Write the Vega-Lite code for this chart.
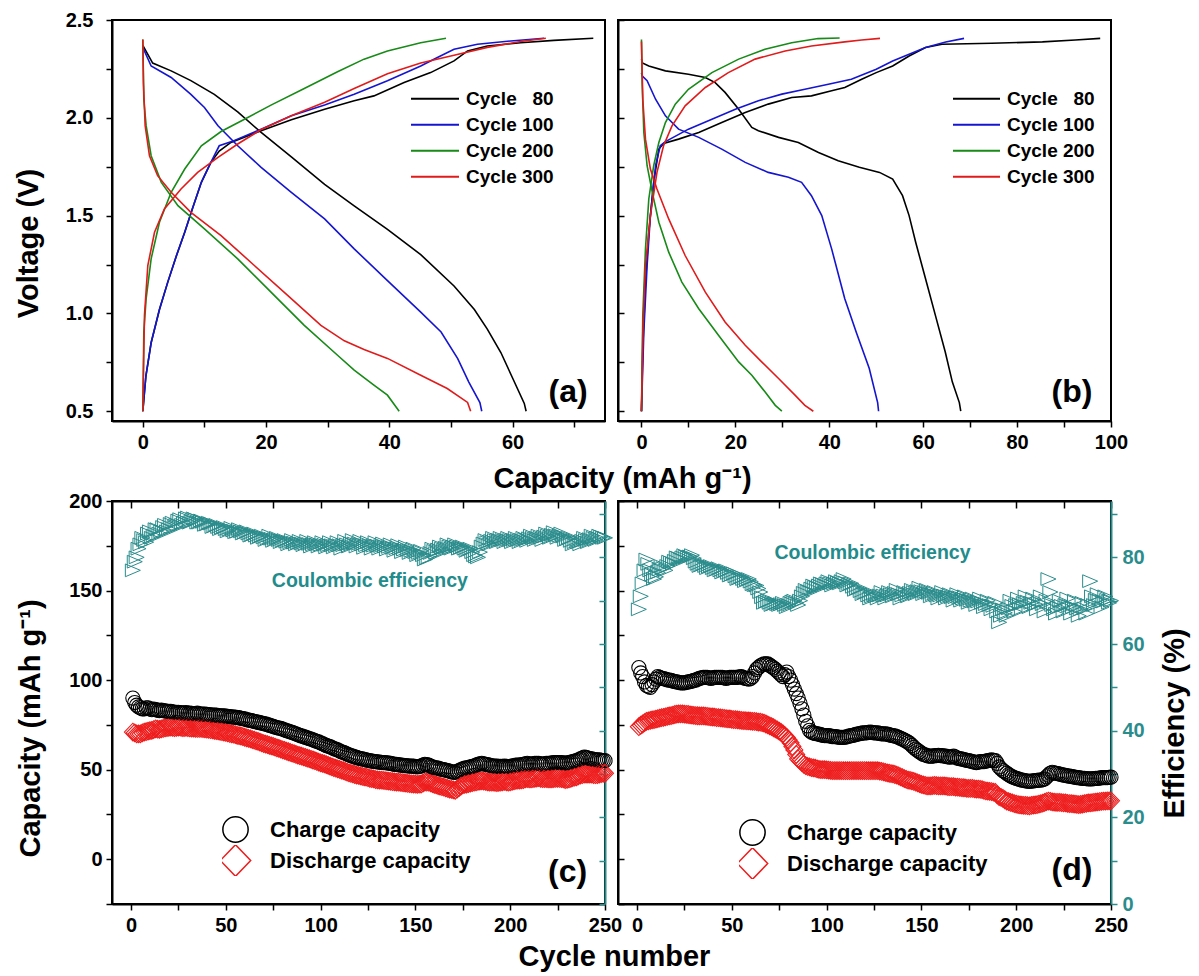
{
"$schema": "https://vega.github.io/schema/vega-lite/v6.json",
"background": "white",
"padding": {"left": 13, "top": 9, "right": 5, "bottom": 5},
"config": {
 "font": "Liberation Sans",
 "view": {"stroke": "#000000", "strokeWidth": 2},
 "axis": {"labelFont": "Liberation Sans", "labelFontSize": 20, "labelFontWeight": "bold", "labelColor": "#000000", "titleFont": "Liberation Sans", "titleFontSize": 29, "titleFontWeight": "bold", "titleColor": "#000000", "tickColor": "#000000", "tickWidth": 1.5, "domainColor": "#000000", "domainWidth": 2, "grid": false, "labelOverlap": false, "labelFlush": false},
 "legend": {"labelFont": "Liberation Sans", "labelFontWeight": "bold", "labelColor": "#000000", "labelLimit": 400}
},
"datasets": {
 "a": [
  {"c":"80","b":"d","x":0,"v":2.37},{"c":"80","b":"d","x":1.6,"v":2.28},{"c":"80","b":"d","x":4.6,"v":2.24},{"c":"80","b":"d","x":7.8,"v":2.19},{"c":"80","b":"d","x":11.6,"v":2.12},{"c":"80","b":"d","x":15.4,"v":2.03},{"c":"80","b":"d","x":19.2,"v":1.925},{"c":"80","b":"d","x":24.1,"v":1.8},{"c":"80","b":"d","x":29.5,"v":1.66},{"c":"80","b":"d","x":34.3,"v":1.55},{"c":"80","b":"d","x":39.7,"v":1.43},{"c":"80","b":"d","x":45.1,"v":1.3},{"c":"80","b":"d","x":50.5,"v":1.14},{"c":"80","b":"d","x":53.8,"v":1.02},{"c":"80","b":"d","x":55.9,"v":0.92},{"c":"80","b":"d","x":58.1,"v":0.8},{"c":"80","b":"d","x":60,"v":0.67},{"c":"80","b":"d","x":61.9,"v":0.54},{"c":"80","b":"d","x":62.2,"v":0.5},
  {"c":"80","b":"c","x":0,"v":0.5},{"c":"80","b":"c","x":0.5,"v":0.68},{"c":"80","b":"c","x":1.35,"v":0.85},{"c":"80","b":"c","x":2.7,"v":1.02},{"c":"80","b":"c","x":4.05,"v":1.16},{"c":"80","b":"c","x":5.4,"v":1.29},{"c":"80","b":"c","x":6.8,"v":1.415},{"c":"80","b":"c","x":8.1,"v":1.54},{"c":"80","b":"c","x":9.5,"v":1.67},{"c":"80","b":"c","x":11,"v":1.77},{"c":"80","b":"c","x":12.4,"v":1.83},{"c":"80","b":"c","x":14.3,"v":1.874},{"c":"80","b":"c","x":19.2,"v":1.934},{"c":"80","b":"c","x":24.1,"v":1.99},{"c":"80","b":"c","x":29.5,"v":2.044},{"c":"80","b":"c","x":34.3,"v":2.087},{"c":"80","b":"c","x":37.5,"v":2.112},{"c":"80","b":"c","x":42.4,"v":2.18},{"c":"80","b":"c","x":46.7,"v":2.231},{"c":"80","b":"c","x":50.5,"v":2.291},{"c":"80","b":"c","x":52.7,"v":2.342},{"c":"80","b":"c","x":55.9,"v":2.367},{"c":"80","b":"c","x":61.3,"v":2.384},{"c":"80","b":"c","x":66.7,"v":2.396},{"c":"80","b":"c","x":73.1,"v":2.407},
  {"c":"100","b":"d","x":0,"v":2.36},{"c":"100","b":"d","x":1.35,"v":2.265},{"c":"100","b":"d","x":4.6,"v":2.206},{"c":"100","b":"d","x":7.8,"v":2.12},{"c":"100","b":"d","x":10,"v":2.053},{"c":"100","b":"d","x":12.2,"v":1.959},{"c":"100","b":"d","x":15.4,"v":1.857},{"c":"100","b":"d","x":19.2,"v":1.747},{"c":"100","b":"d","x":24.1,"v":1.619},{"c":"100","b":"d","x":29.5,"v":1.483},{"c":"100","b":"d","x":34.3,"v":1.33},{"c":"100","b":"d","x":39.7,"v":1.168},{"c":"100","b":"d","x":45.1,"v":1.007},{"c":"100","b":"d","x":48.4,"v":0.905},{"c":"100","b":"d","x":51.1,"v":0.769},{"c":"100","b":"d","x":52.9,"v":0.649},{"c":"100","b":"d","x":54.7,"v":0.544},{"c":"100","b":"d","x":55,"v":0.5},
  {"c":"100","b":"c","x":0,"v":0.5},{"c":"100","b":"c","x":0.5,"v":0.68},{"c":"100","b":"c","x":1.35,"v":0.85},{"c":"100","b":"c","x":2.7,"v":1.02},{"c":"100","b":"c","x":4.05,"v":1.16},{"c":"100","b":"c","x":5.4,"v":1.29},{"c":"100","b":"c","x":6.8,"v":1.415},{"c":"100","b":"c","x":8.1,"v":1.54},{"c":"100","b":"c","x":9.5,"v":1.67},{"c":"100","b":"c","x":11,"v":1.77},{"c":"100","b":"c","x":12.4,"v":1.857},{"c":"100","b":"c","x":14.3,"v":1.877},{"c":"100","b":"c","x":19.2,"v":1.942},{"c":"100","b":"c","x":24.1,"v":2.01},{"c":"100","b":"c","x":29.5,"v":2.065},{"c":"100","b":"c","x":34.3,"v":2.121},{"c":"100","b":"c","x":39.7,"v":2.189},{"c":"100","b":"c","x":45.1,"v":2.265},{"c":"100","b":"c","x":47.8,"v":2.308},{"c":"100","b":"c","x":50.5,"v":2.35},{"c":"100","b":"c","x":54.3,"v":2.376},{"c":"100","b":"c","x":59.7,"v":2.393},{"c":"100","b":"c","x":65.1,"v":2.407},
  {"c":"200","b":"d","x":0,"v":2.4},{"c":"200","b":"d","x":0.16,"v":2.095},{"c":"200","b":"d","x":0.54,"v":1.96},{"c":"200","b":"d","x":1.35,"v":1.806},{"c":"200","b":"d","x":3,"v":1.67},{"c":"200","b":"d","x":5.7,"v":1.551},{"c":"200","b":"d","x":10,"v":1.432},{"c":"200","b":"d","x":15.4,"v":1.279},{"c":"200","b":"d","x":20.8,"v":1.109},{"c":"200","b":"d","x":26.2,"v":0.939},{"c":"200","b":"d","x":31.6,"v":0.786},{"c":"200","b":"d","x":34.3,"v":0.71},{"c":"200","b":"d","x":37.5,"v":0.633},{"c":"200","b":"d","x":39.7,"v":0.582},{"c":"200","b":"d","x":41.6,"v":0.5},
  {"c":"200","b":"c","x":0,"v":0.5},{"c":"200","b":"c","x":0.16,"v":0.905},{"c":"200","b":"c","x":0.54,"v":1.075},{"c":"200","b":"c","x":1.35,"v":1.279},{"c":"200","b":"c","x":2.7,"v":1.466},{"c":"200","b":"c","x":4.6,"v":1.619},{"c":"200","b":"c","x":6.8,"v":1.738},{"c":"200","b":"c","x":9.5,"v":1.857},{"c":"200","b":"c","x":12.7,"v":1.93},{"c":"200","b":"c","x":16.5,"v":1.993},{"c":"200","b":"c","x":20.8,"v":2.065},{"c":"200","b":"c","x":26.2,"v":2.15},{"c":"200","b":"c","x":31.6,"v":2.235},{"c":"200","b":"c","x":35.9,"v":2.3},{"c":"200","b":"c","x":39.7,"v":2.342},{"c":"200","b":"c","x":45.1,"v":2.384},{"c":"200","b":"c","x":49.2,"v":2.407},
  {"c":"300","b":"d","x":0,"v":2.4},{"c":"300","b":"d","x":0.1,"v":2.18},{"c":"300","b":"d","x":0.38,"v":1.96},{"c":"300","b":"d","x":1.08,"v":1.806},{"c":"300","b":"d","x":2.4,"v":1.704},{"c":"300","b":"d","x":4.6,"v":1.619},{"c":"300","b":"d","x":7.8,"v":1.517},{"c":"300","b":"d","x":12.7,"v":1.398},{"c":"300","b":"d","x":18.1,"v":1.245},{"c":"300","b":"d","x":23.5,"v":1.092},{"c":"300","b":"d","x":28.9,"v":0.939},{"c":"300","b":"d","x":32.7,"v":0.86},{"c":"300","b":"d","x":35.9,"v":0.815},{"c":"300","b":"d","x":39.7,"v":0.77},{"c":"300","b":"d","x":45.1,"v":0.684},{"c":"300","b":"d","x":49.4,"v":0.616},{"c":"300","b":"d","x":52.7,"v":0.545},{"c":"300","b":"d","x":53.2,"v":0.5},
  {"c":"300","b":"c","x":0,"v":0.5},{"c":"300","b":"c","x":0.27,"v":0.99},{"c":"300","b":"c","x":0.81,"v":1.245},{"c":"300","b":"c","x":1.9,"v":1.415},{"c":"300","b":"c","x":3.5,"v":1.534},{"c":"300","b":"c","x":6.2,"v":1.636},{"c":"300","b":"c","x":8.9,"v":1.721},{"c":"300","b":"c","x":12.2,"v":1.798},{"c":"300","b":"c","x":15.4,"v":1.866},{"c":"300","b":"c","x":19.2,"v":1.94},{"c":"300","b":"c","x":24.1,"v":2.01},{"c":"300","b":"c","x":29.5,"v":2.08},{"c":"300","b":"c","x":34.3,"v":2.15},{"c":"300","b":"c","x":39.7,"v":2.225},{"c":"300","b":"c","x":45.1,"v":2.28},{"c":"300","b":"c","x":50.5,"v":2.32},{"c":"300","b":"c","x":55.9,"v":2.36},{"c":"300","b":"c","x":61.3,"v":2.39},{"c":"300","b":"c","x":65.4,"v":2.407}
 ],
 "b": [
  {"c":"80","b":"d","x":0,"v":2.3},{"c":"80","b":"d","x":0.2,"v":2.28},{"c":"80","b":"d","x":1.56,"v":2.265},{"c":"80","b":"d","x":5.1,"v":2.24},{"c":"80","b":"d","x":10,"v":2.223},{"c":"80","b":"d","x":13.6,"v":2.206},{"c":"80","b":"d","x":15.7,"v":2.18},{"c":"80","b":"d","x":17.8,"v":2.13},{"c":"80","b":"d","x":20.7,"v":2.044},{"c":"80","b":"d","x":23.5,"v":1.951},{"c":"80","b":"d","x":24.9,"v":1.934},{"c":"80","b":"d","x":29.2,"v":1.9},{"c":"80","b":"d","x":33.4,"v":1.874},{"c":"80","b":"d","x":37.7,"v":1.823},{"c":"80","b":"d","x":41.9,"v":1.78},{"c":"80","b":"d","x":46.4,"v":1.747},{"c":"80","b":"d","x":50.7,"v":1.721},{"c":"80","b":"d","x":53.5,"v":1.687},{"c":"80","b":"d","x":55.6,"v":1.602},{"c":"80","b":"d","x":57,"v":1.5},{"c":"80","b":"d","x":58.4,"v":1.364},{"c":"80","b":"d","x":60.5,"v":1.177},{"c":"80","b":"d","x":62.6,"v":0.99},{"c":"80","b":"d","x":64.7,"v":0.803},{"c":"80","b":"d","x":66.2,"v":0.65},{"c":"80","b":"d","x":67.7,"v":0.544},{"c":"80","b":"d","x":68,"v":0.5},
  {"c":"80","b":"c","x":0,"v":0.5},{"c":"80","b":"c","x":0.28,"v":0.82},{"c":"80","b":"c","x":0.85,"v":1.16},{"c":"80","b":"c","x":1.56,"v":1.415},{"c":"80","b":"c","x":2.6,"v":1.67},{"c":"80","b":"c","x":3.7,"v":1.84},{"c":"80","b":"c","x":4.7,"v":1.869},{"c":"80","b":"c","x":7.9,"v":1.891},{"c":"80","b":"c","x":12.2,"v":1.925},{"c":"80","b":"c","x":17.1,"v":1.976},{"c":"80","b":"c","x":22.1,"v":2.027},{"c":"80","b":"c","x":27,"v":2.07},{"c":"80","b":"c","x":32,"v":2.104},{"c":"80","b":"c","x":36.2,"v":2.112},{"c":"80","b":"c","x":40.5,"v":2.138},{"c":"80","b":"c","x":43.3,"v":2.155},{"c":"80","b":"c","x":46.9,"v":2.197},{"c":"80","b":"c","x":50,"v":2.231},{"c":"80","b":"c","x":53.5,"v":2.265},{"c":"80","b":"c","x":57,"v":2.316},{"c":"80","b":"c","x":60.5,"v":2.359},{"c":"80","b":"c","x":64,"v":2.376},{"c":"80","b":"c","x":74.6,"v":2.381},{"c":"80","b":"c","x":85.4,"v":2.388},{"c":"80","b":"c","x":92.4,"v":2.398},{"c":"80","b":"c","x":97.7,"v":2.406},
  {"c":"100","b":"d","x":0,"v":2.23},{"c":"100","b":"d","x":0.14,"v":2.214},{"c":"100","b":"d","x":1.2,"v":2.19},{"c":"100","b":"d","x":3,"v":2.095},{"c":"100","b":"d","x":5.1,"v":2.01},{"c":"100","b":"d","x":7.9,"v":1.942},{"c":"100","b":"d","x":12.2,"v":1.9},{"c":"100","b":"d","x":17.1,"v":1.84},{"c":"100","b":"d","x":22.1,"v":1.772},{"c":"100","b":"d","x":27,"v":1.721},{"c":"100","b":"d","x":31.3,"v":1.696},{"c":"100","b":"d","x":34.1,"v":1.67},{"c":"100","b":"d","x":36.2,"v":1.602},{"c":"100","b":"d","x":38.4,"v":1.5},{"c":"100","b":"d","x":40.5,"v":1.33},{"c":"100","b":"d","x":43.3,"v":1.075},{"c":"100","b":"d","x":45.8,"v":0.9},{"c":"100","b":"d","x":48.5,"v":0.72},{"c":"100","b":"d","x":50.3,"v":0.544},{"c":"100","b":"d","x":50.5,"v":0.5},
  {"c":"100","b":"c","x":0,"v":0.5},{"c":"100","b":"c","x":0.5,"v":0.905},{"c":"100","b":"c","x":1.2,"v":1.245},{"c":"100","b":"c","x":1.9,"v":1.5},{"c":"100","b":"c","x":3,"v":1.755},{"c":"100","b":"c","x":4,"v":1.857},{"c":"100","b":"c","x":5.1,"v":1.878},{"c":"100","b":"c","x":10,"v":1.942},{"c":"100","b":"c","x":15,"v":1.993},{"c":"100","b":"c","x":20,"v":2.044},{"c":"100","b":"c","x":24.9,"v":2.087},{"c":"100","b":"c","x":29.9,"v":2.121},{"c":"100","b":"c","x":34.8,"v":2.146},{"c":"100","b":"c","x":39.8,"v":2.172},{"c":"100","b":"c","x":44.7,"v":2.197},{"c":"100","b":"c","x":50,"v":2.248},{"c":"100","b":"c","x":53.5,"v":2.29},{"c":"100","b":"c","x":57,"v":2.325},{"c":"100","b":"c","x":60.5,"v":2.359},{"c":"100","b":"c","x":64.8,"v":2.388},{"c":"100","b":"c","x":68.7,"v":2.406},
  {"c":"200","b":"d","x":0,"v":2.4},{"c":"200","b":"d","x":0.14,"v":2.18},{"c":"200","b":"d","x":0.5,"v":1.925},{"c":"200","b":"d","x":1.2,"v":1.755},{"c":"200","b":"d","x":2.3,"v":1.619},{"c":"200","b":"d","x":3.7,"v":1.466},{"c":"200","b":"d","x":5.8,"v":1.313},{"c":"200","b":"d","x":8.6,"v":1.16},{"c":"200","b":"d","x":12.2,"v":1.024},{"c":"200","b":"d","x":16.4,"v":0.888},{"c":"200","b":"d","x":20.7,"v":0.752},{"c":"200","b":"d","x":23.5,"v":0.684},{"c":"200","b":"d","x":26.3,"v":0.599},{"c":"200","b":"d","x":28.5,"v":0.53},{"c":"200","b":"d","x":29.9,"v":0.5},
  {"c":"200","b":"c","x":0,"v":0.5},{"c":"200","b":"c","x":0.28,"v":0.99},{"c":"200","b":"c","x":0.85,"v":1.33},{"c":"200","b":"c","x":1.56,"v":1.585},{"c":"200","b":"c","x":2.6,"v":1.755},{"c":"200","b":"c","x":3.7,"v":1.874},{"c":"200","b":"c","x":5.1,"v":1.976},{"c":"200","b":"c","x":7.2,"v":2.07},{"c":"200","b":"c","x":10,"v":2.146},{"c":"200","b":"c","x":15,"v":2.231},{"c":"200","b":"c","x":20.7,"v":2.3},{"c":"200","b":"c","x":26.3,"v":2.35},{"c":"200","b":"c","x":32,"v":2.384},{"c":"200","b":"c","x":37.6,"v":2.405},{"c":"200","b":"c","x":42.2,"v":2.408},
  {"c":"300","b":"d","x":0,"v":2.39},{"c":"300","b":"d","x":0.28,"v":2.095},{"c":"300","b":"d","x":0.85,"v":1.891},{"c":"300","b":"d","x":1.9,"v":1.738},{"c":"300","b":"d","x":3.3,"v":1.636},{"c":"300","b":"d","x":5.8,"v":1.483},{"c":"300","b":"d","x":9.3,"v":1.296},{"c":"300","b":"d","x":13.6,"v":1.109},{"c":"300","b":"d","x":17.8,"v":0.956},{"c":"300","b":"d","x":22.1,"v":0.837},{"c":"300","b":"d","x":25.6,"v":0.752},{"c":"300","b":"d","x":29.2,"v":0.667},{"c":"300","b":"d","x":32.7,"v":0.582},{"c":"300","b":"d","x":34.8,"v":0.53},{"c":"300","b":"d","x":36.6,"v":0.5},
  {"c":"300","b":"c","x":0,"v":0.5},{"c":"300","b":"c","x":0.28,"v":0.905},{"c":"300","b":"c","x":0.85,"v":1.245},{"c":"300","b":"c","x":1.9,"v":1.5},{"c":"300","b":"c","x":3.3,"v":1.721},{"c":"300","b":"c","x":4.7,"v":1.857},{"c":"300","b":"c","x":6.5,"v":1.959},{"c":"300","b":"c","x":9.3,"v":2.061},{"c":"300","b":"c","x":13.6,"v":2.155},{"c":"300","b":"c","x":18.5,"v":2.231},{"c":"300","b":"c","x":24.2,"v":2.3},{"c":"300","b":"c","x":30.6,"v":2.342},{"c":"300","b":"c","x":36.2,"v":2.367},{"c":"300","b":"c","x":43.3,"v":2.388},{"c":"300","b":"c","x":46.9,"v":2.398},{"c":"300","b":"c","x":50.8,"v":2.406}
 ],
 "cc": [
  {"n":1,"c":90,"d":71,"e":77},{"n":3,"c":86,"d":70,"e":80},{"n":5,"c":84.5,"d":70,"e":83},{"n":7,"c":84,"d":71,"e":84},{"n":9,"c":84.5,"d":71.5,"e":85.5},{"n":11,"c":83.5,"d":72,"e":84.5},{"n":13,"c":83.5,"d":72.8,"e":86.5},{"n":15,"c":83,"d":72.5,"e":85.5},{"n":17,"c":83,"d":73,"e":87},{"n":19,"c":82.5,"d":73.5,"e":86},
  {"n":21,"c":82.5,"d":73.7,"e":87.7},{"n":23,"c":82,"d":73.5,"e":87},{"n":25,"c":82,"d":73.8,"e":88.5},{"n":27,"c":81.5,"d":73.5,"e":87.5},{"n":29,"c":81.8,"d":73.6,"e":89},{"n":31,"c":81.5,"d":73.3,"e":88},{"n":33,"c":81.2,"d":73.2,"e":89},{"n":35,"c":81.5,"d":73,"e":88},{"n":37,"c":81,"d":73,"e":88.5},{"n":39,"c":81,"d":72.8,"e":87.5},
  {"n":41,"c":80.8,"d":72.5,"e":88},{"n":43,"c":80.5,"d":72.2,"e":87},{"n":45,"c":80.5,"d":71.8,"e":87.5},{"n":47,"c":80,"d":71.4,"e":86.5},{"n":49,"c":80,"d":71,"e":87},{"n":51,"c":79.8,"d":70.5,"e":86},{"n":53,"c":79.5,"d":70,"e":86.8},{"n":55,"c":79.3,"d":69.5,"e":85.8},{"n":57,"c":79,"d":69,"e":86.5},{"n":59,"c":78.5,"d":68.5,"e":85.5},
  {"n":61,"c":78,"d":67.8,"e":86},{"n":63,"c":77.5,"d":67.2,"e":85},{"n":65,"c":77,"d":66.5,"e":85.5},{"n":67,"c":76.5,"d":65.8,"e":84.5},{"n":69,"c":76,"d":65,"e":85},{"n":71,"c":75.5,"d":64.3,"e":84},{"n":73,"c":74.8,"d":63.6,"e":85},{"n":75,"c":74.2,"d":63,"e":83.8},{"n":77,"c":73.5,"d":62.2,"e":84.5},{"n":79,"c":73,"d":61.5,"e":83.5},
  {"n":81,"c":72.2,"d":60.8,"e":84},{"n":83,"c":71.5,"d":60,"e":83},{"n":85,"c":70.8,"d":59.3,"e":84},{"n":87,"c":70,"d":58.5,"e":83},{"n":89,"c":69.2,"d":57.8,"e":83.8},{"n":91,"c":68.5,"d":57.2,"e":82.8},{"n":93,"c":67.8,"d":56.5,"e":83.8},{"n":95,"c":67,"d":55.8,"e":82.5},{"n":97,"c":66.2,"d":55,"e":83.5},{"n":99,"c":65.5,"d":54.2,"e":82.5},
  {"n":101,"c":64.5,"d":53.5,"e":83.5},{"n":103,"c":63.5,"d":52.8,"e":82.3},{"n":105,"c":62.8,"d":52,"e":83.5},{"n":107,"c":61.8,"d":51.2,"e":82.3},{"n":109,"c":61,"d":50.5,"e":83.5},{"n":111,"c":60,"d":49.8,"e":82},{"n":113,"c":59.2,"d":49,"e":83.8},{"n":115,"c":58.2,"d":48.2,"e":82.5},{"n":117,"c":57.5,"d":47.6,"e":84},{"n":119,"c":56.8,"d":47,"e":82.5},
  {"n":121,"c":56.2,"d":46.5,"e":83.8},{"n":123,"c":55.8,"d":46,"e":82.2},{"n":125,"c":55.2,"d":45.5,"e":83.5},{"n":127,"c":54.8,"d":45,"e":82},{"n":129,"c":54.5,"d":44.5,"e":83.5},{"n":131,"c":54.2,"d":44.2,"e":82},{"n":133,"c":54,"d":44,"e":83.2},{"n":135,"c":53.8,"d":43.8,"e":81.8},{"n":137,"c":53.5,"d":43.5,"e":83},{"n":139,"c":53,"d":43.2,"e":81.5},
  {"n":141,"c":52.8,"d":43,"e":82.8},{"n":143,"c":52.5,"d":42.8,"e":81.2},{"n":145,"c":52.2,"d":42.5,"e":82.5},{"n":147,"c":52,"d":42.2,"e":81},{"n":149,"c":52,"d":42,"e":82},{"n":151,"c":51.5,"d":41.8,"e":80.5},{"n":153,"c":52,"d":42,"e":81.5},{"n":155,"c":53,"d":43,"e":79.5},{"n":157,"c":52.5,"d":43,"e":80},{"n":159,"c":51.5,"d":42.2,"e":82},
  {"n":161,"c":51,"d":41.5,"e":81},{"n":163,"c":50.5,"d":40.8,"e":82.5},{"n":165,"c":50,"d":40.2,"e":81.5},{"n":167,"c":49.5,"d":39.5,"e":83},{"n":169,"c":48.8,"d":39,"e":82},{"n":171,"c":48.5,"d":38.5,"e":83},{"n":173,"c":49.5,"d":40,"e":82},{"n":175,"c":50.5,"d":41.5,"e":82.5},{"n":177,"c":51,"d":42,"e":81.5},{"n":179,"c":51.5,"d":42.5,"e":82},
  {"n":181,"c":52,"d":43,"e":80.5},{"n":183,"c":53,"d":43.5,"e":80},{"n":185,"c":53.5,"d":43.8,"e":82.5},{"n":187,"c":53,"d":43.5,"e":84},{"n":189,"c":52.5,"d":43,"e":83},{"n":191,"c":52,"d":43,"e":84.5},{"n":193,"c":52,"d":42.8,"e":83.5},{"n":195,"c":51.8,"d":43,"e":84.5},{"n":197,"c":52,"d":43.5,"e":83.5},{"n":199,"c":51.5,"d":43,"e":84.5},
  {"n":201,"c":52,"d":43.5,"e":83.5},{"n":203,"c":52.5,"d":44,"e":84.5},{"n":205,"c":52.5,"d":44.2,"e":83.5},{"n":207,"c":53,"d":44.5,"e":84.5},{"n":209,"c":53.5,"d":45,"e":83.8},{"n":211,"c":53,"d":44.8,"e":85},{"n":213,"c":53.5,"d":45.2,"e":84},{"n":215,"c":53.5,"d":45.5,"e":85},{"n":217,"c":53,"d":45,"e":84},{"n":219,"c":53.5,"d":45,"e":85.5},
  {"n":221,"c":53.5,"d":44.8,"e":84.5},{"n":223,"c":54,"d":45,"e":85.8},{"n":225,"c":54,"d":45.2,"e":84.5},{"n":227,"c":54,"d":45,"e":85.5},{"n":229,"c":53.5,"d":44.5,"e":84},{"n":231,"c":54,"d":44.8,"e":84.5},{"n":233,"c":54.5,"d":45.5,"e":83},{"n":235,"c":55,"d":46,"e":84},{"n":237,"c":56,"d":47,"e":83},{"n":239,"c":57,"d":47.5,"e":84.5},
  {"n":241,"c":56.5,"d":47.5,"e":83.5},{"n":243,"c":56,"d":47.5,"e":85},{"n":245,"c":55.5,"d":47.2,"e":84},{"n":247,"c":55.5,"d":47.5,"e":85},{"n":249,"c":55,"d":48,"e":84.5},
  {"n":2,"c":87.5,"d":70.5,"e":79},{"n":4,"c":85,"d":70,"e":82},{"n":6,"c":84,"d":70.5,"e":84.5},{"n":8,"c":84.5,"d":71.2,"e":83.5},{"n":10,"c":84,"d":71.8,"e":86},{"n":12,"c":83.8,"d":72.4,"e":85},{"n":14,"c":83.2,"d":72.6,"e":86.5},{"n":16,"c":83.2,"d":72.8,"e":86},{"n":18,"c":82.8,"d":73.3,"e":87.5},{"n":20,"c":82.6,"d":73.6,"e":86.5},
  {"n":22,"c":82.2,"d":73.6,"e":88},{"n":24,"c":82,"d":73.6,"e":87.5},{"n":26,"c":81.8,"d":73.7,"e":88.8},{"n":28,"c":81.7,"d":73.5,"e":88},{"n":30,"c":81.6,"d":73.5,"e":89.2},{"n":32,"c":81.4,"d":73.2,"e":88.3},{"n":34,"c":81.3,"d":73.1,"e":88.8},{"n":36,"c":81.2,"d":73,"e":88},{"n":38,"c":81,"d":72.9,"e":88.2},{"n":40,"c":80.9,"d":72.6,"e":87.6},
  {"n":42,"c":80.6,"d":72.3,"e":87.8},{"n":44,"c":80.5,"d":72,"e":87.2},{"n":46,"c":80.2,"d":71.6,"e":87},{"n":48,"c":80,"d":71.2,"e":86.8},{"n":50,"c":79.9,"d":70.8,"e":86.5},{"n":52,"c":79.6,"d":70.2,"e":86.4},{"n":54,"c":79.4,"d":69.8,"e":86.2},{"n":56,"c":79.1,"d":69.2,"e":85.9},{"n":58,"c":78.7,"d":68.8,"e":86},{"n":60,"c":78.3,"d":68.1,"e":85.7},
  {"n":62,"c":77.7,"d":67.5,"e":85.5},{"n":64,"c":77.2,"d":66.8,"e":85.2},{"n":66,"c":76.7,"d":66.1,"e":85},{"n":68,"c":76.2,"d":65.4,"e":84.8},{"n":70,"c":75.7,"d":64.6,"e":84.6},{"n":72,"c":75.1,"d":64,"e":84.4},{"n":74,"c":74.5,"d":63.3,"e":84.3},{"n":76,"c":73.8,"d":62.6,"e":84.2},{"n":78,"c":73.2,"d":61.9,"e":84},{"n":80,"c":72.6,"d":61.1,"e":83.8},
  {"n":82,"c":71.8,"d":60.4,"e":83.6},{"n":84,"c":71.1,"d":59.6,"e":83.5},{"n":86,"c":70.4,"d":58.9,"e":83.4},{"n":88,"c":69.6,"d":58.1,"e":83.3},{"n":90,"c":68.8,"d":57.5,"e":83.2},{"n":92,"c":68.1,"d":56.8,"e":83.2},{"n":94,"c":67.4,"d":56.1,"e":83.1},{"n":96,"c":66.6,"d":55.4,"e":83},{"n":98,"c":65.8,"d":54.6,"e":83},{"n":100,"c":65,"d":53.8,"e":82.9},
  {"n":102,"c":64,"d":53.2,"e":82.9},{"n":104,"c":63.1,"d":52.4,"e":82.8},{"n":106,"c":62.3,"d":51.6,"e":82.8},{"n":108,"c":61.4,"d":50.8,"e":82.8},{"n":110,"c":60.5,"d":50.1,"e":82.8},{"n":112,"c":59.6,"d":49.4,"e":82.8},{"n":114,"c":58.7,"d":48.6,"e":83},{"n":116,"c":57.8,"d":47.9,"e":83.2},{"n":118,"c":57.2,"d":47.3,"e":83.2},{"n":120,"c":56.5,"d":46.8,"e":83.1},
  {"n":122,"c":56,"d":46.2,"e":83},{"n":124,"c":55.5,"d":45.8,"e":82.8},{"n":126,"c":55,"d":45.2,"e":82.7},{"n":128,"c":54.6,"d":44.8,"e":82.7},{"n":130,"c":54.3,"d":44.3,"e":82.7},{"n":132,"c":54.1,"d":44.1,"e":82.6},{"n":134,"c":53.9,"d":43.9,"e":82.5},{"n":136,"c":53.6,"d":43.6,"e":82.4},{"n":138,"c":53.2,"d":43.3,"e":82.2},{"n":140,"c":52.9,"d":43.1,"e":82.1},
  {"n":142,"c":52.6,"d":42.9,"e":82},{"n":144,"c":52.3,"d":42.6,"e":81.8},{"n":146,"c":52.1,"d":42.3,"e":81.7},{"n":148,"c":52,"d":42.1,"e":81.5},{"n":150,"c":51.7,"d":41.9,"e":81.2},{"n":152,"c":51.8,"d":41.9,"e":81},{"n":154,"c":52.5,"d":42.5,"e":80.5},{"n":156,"c":52.8,"d":43,"e":79.8},{"n":158,"c":52,"d":42.6,"e":81},{"n":160,"c":51.2,"d":41.8,"e":81.5},
  {"n":162,"c":50.8,"d":41.1,"e":81.8},{"n":164,"c":50.2,"d":40.5,"e":82},{"n":166,"c":49.8,"d":39.8,"e":82.2},{"n":168,"c":49.2,"d":39.2,"e":82.5},{"n":170,"c":48.6,"d":38.7,"e":82.5},{"n":172,"c":49,"d":39.2,"e":82.5},{"n":174,"c":50,"d":40.8,"e":82.2},{"n":176,"c":50.8,"d":41.8,"e":82},{"n":178,"c":51.2,"d":42.2,"e":81.8},{"n":180,"c":51.8,"d":42.8,"e":81.2},
  {"n":182,"c":52.5,"d":43.2,"e":80.2},{"n":184,"c":53.2,"d":43.6,"e":81.2},{"n":186,"c":53.2,"d":43.6,"e":83.2},{"n":188,"c":52.8,"d":43.2,"e":83.5},{"n":190,"c":52.2,"d":43,"e":83.8},{"n":192,"c":52,"d":42.9,"e":84},{"n":194,"c":51.9,"d":42.9,"e":84},{"n":196,"c":51.9,"d":43.2,"e":84},{"n":198,"c":51.8,"d":43.2,"e":84},{"n":200,"c":51.8,"d":43.2,"e":84},
  {"n":202,"c":52.2,"d":43.8,"e":84},{"n":204,"c":52.5,"d":44.1,"e":84},{"n":206,"c":52.8,"d":44.3,"e":84},{"n":208,"c":53.2,"d":44.8,"e":84.2},{"n":210,"c":53.2,"d":44.9,"e":84.4},{"n":212,"c":53.2,"d":45,"e":84.5},{"n":214,"c":53.5,"d":45.3,"e":84.5},{"n":216,"c":53.2,"d":45.2,"e":84.5},{"n":218,"c":53.2,"d":45,"e":84.8},{"n":220,"c":53.5,"d":44.9,"e":85},
  {"n":222,"c":53.8,"d":44.9,"e":85.2},{"n":224,"c":54,"d":45.1,"e":85.1},{"n":226,"c":54,"d":45.1,"e":85},{"n":228,"c":53.8,"d":44.8,"e":84.8},{"n":230,"c":53.8,"d":44.6,"e":84.2},{"n":232,"c":54.2,"d":45.2,"e":83.8},{"n":234,"c":54.8,"d":45.8,"e":83.5},{"n":236,"c":55.5,"d":46.5,"e":83.5},{"n":238,"c":56.5,"d":47.2,"e":83.8},{"n":240,"c":56.8,"d":47.5,"e":84},
  {"n":242,"c":56.2,"d":47.5,"e":84.2},{"n":244,"c":55.8,"d":47.3,"e":84.5},{"n":246,"c":55.5,"d":47.3,"e":84.5},{"n":248,"c":55.2,"d":47.8,"e":84.8},{"n":250,"c":55,"d":48,"e":84.5}
 ],
 "dd": [
  {"n":1,"c":107,"d":74,"e":68},{"n":3,"c":102,"d":75.5,"e":74},{"n":5,"c":97,"d":77,"e":79.5},{"n":7,"c":96,"d":77.5,"e":77},{"n":9,"c":99,"d":78,"e":75},{"n":11,"c":102,"d":78.5,"e":76.5},{"n":13,"c":101,"d":79,"e":78},{"n":15,"c":100.5,"d":79.5,"e":77},{"n":17,"c":100,"d":80,"e":79},{"n":19,"c":99.5,"d":80.5,"e":78.5},
  {"n":21,"c":99,"d":81,"e":80},{"n":23,"c":98.5,"d":81.2,"e":79.5},{"n":25,"c":98.5,"d":81,"e":80.5},{"n":27,"c":99,"d":80.8,"e":80},{"n":29,"c":99.5,"d":80.5,"e":80.5},{"n":31,"c":100,"d":80.2,"e":79},{"n":33,"c":101,"d":80,"e":78},{"n":35,"c":101.5,"d":80,"e":78.5},{"n":37,"c":101.5,"d":79.8,"e":77.5},{"n":39,"c":101,"d":79.5,"e":78},
  {"n":41,"c":101.5,"d":79.3,"e":77},{"n":43,"c":101.5,"d":79,"e":77.5},{"n":45,"c":101.5,"d":78.8,"e":76.5},{"n":47,"c":101,"d":78.5,"e":77},{"n":49,"c":101.5,"d":78.3,"e":75.8},{"n":51,"c":101.5,"d":78,"e":76.3},{"n":53,"c":101.5,"d":77.8,"e":75},{"n":55,"c":102,"d":77.5,"e":75.5},{"n":57,"c":101,"d":77.4,"e":74.5},{"n":59,"c":100.5,"d":77.2,"e":75},
  {"n":61,"c":102,"d":77,"e":73.8},{"n":63,"c":106,"d":76.8,"e":73.5},{"n":65,"c":108,"d":76.5,"e":72},{"n":67,"c":109,"d":76,"e":69.5},{"n":69,"c":109,"d":75,"e":70},{"n":71,"c":107.5,"d":74,"e":69},{"n":73,"c":106,"d":72.8,"e":69.5},{"n":75,"c":104,"d":71.5,"e":69},{"n":77,"c":102,"d":70,"e":69.5},{"n":79,"c":104.5,"d":68,"e":68.5},
  {"n":81,"c":100,"d":65,"e":69.5},{"n":83,"c":95,"d":61,"e":70},{"n":85,"c":90,"d":56,"e":69},{"n":87,"c":84,"d":54,"e":71},{"n":89,"c":77,"d":52.2,"e":72.5},{"n":91,"c":72,"d":51.5,"e":72},{"n":93,"c":70.5,"d":51,"e":73.5},{"n":95,"c":70,"d":50.5,"e":73},{"n":97,"c":69.5,"d":50,"e":74},{"n":99,"c":69,"d":50,"e":73.5},
  {"n":101,"c":69,"d":49.8,"e":74.5},{"n":103,"c":68.5,"d":49.5,"e":73.5},{"n":105,"c":68.5,"d":49.5,"e":74.5},{"n":107,"c":68,"d":49.5,"e":74},{"n":109,"c":68,"d":49.4,"e":75},{"n":111,"c":68.5,"d":49.4,"e":73.5},{"n":113,"c":69,"d":49.5,"e":74},{"n":115,"c":69.5,"d":49.5,"e":72.5},{"n":117,"c":70,"d":49.5,"e":73},{"n":119,"c":70.5,"d":49.5,"e":71.5},
  {"n":121,"c":70.5,"d":49.4,"e":72},{"n":123,"c":71,"d":49.4,"e":70.5},{"n":125,"c":70.5,"d":49.4,"e":71.5},{"n":127,"c":70.5,"d":49.4,"e":70.5},{"n":129,"c":70,"d":49,"e":72},{"n":131,"c":70,"d":48.5,"e":70.5},{"n":133,"c":69.5,"d":48,"e":72},{"n":135,"c":69,"d":47.6,"e":71},{"n":137,"c":68.5,"d":47,"e":72.5},{"n":139,"c":67.5,"d":46,"e":70.5},
  {"n":141,"c":66.5,"d":45,"e":72},{"n":143,"c":65.3,"d":44.2,"e":71},{"n":145,"c":63.5,"d":43.8,"e":72.5},{"n":147,"c":61.5,"d":43,"e":71.5},{"n":149,"c":60,"d":42.2,"e":73},{"n":151,"c":58.5,"d":41.5,"e":71.5},{"n":153,"c":57.8,"d":41,"e":72.5},{"n":155,"c":57.5,"d":41,"e":71},{"n":157,"c":57.8,"d":41.2,"e":72},{"n":159,"c":58,"d":41,"e":70.5},
  {"n":161,"c":57.8,"d":41,"e":72},{"n":163,"c":57.5,"d":40.8,"e":70.5},{"n":165,"c":57,"d":40.5,"e":71.5},{"n":167,"c":57.5,"d":40.5,"e":70},{"n":169,"c":56.5,"d":40.2,"e":71.5},{"n":171,"c":56,"d":40,"e":70},{"n":173,"c":55.5,"d":39.8,"e":71},{"n":175,"c":55,"d":39.5,"e":69.5},{"n":177,"c":54.5,"d":39.5,"e":70.5},{"n":179,"c":54,"d":39.2,"e":69},
  {"n":181,"c":54.5,"d":39,"e":70.5},{"n":183,"c":54.5,"d":38.5,"e":68.5},{"n":185,"c":55,"d":38,"e":70},{"n":187,"c":55.5,"d":37.8,"e":68},{"n":189,"c":55,"d":37.3,"e":69.5},{"n":191,"c":51.5,"d":35,"e":65},{"n":193,"c":49.5,"d":34,"e":68},{"n":195,"c":48,"d":32.5,"e":66.5},{"n":197,"c":46.6,"d":31.7,"e":70},{"n":199,"c":45.5,"d":31,"e":67.5},
  {"n":201,"c":44.8,"d":30.5,"e":70.5},{"n":203,"c":44.2,"d":30.2,"e":68},{"n":205,"c":43.8,"d":30,"e":71},{"n":207,"c":43.5,"d":29.8,"e":68.5},{"n":209,"c":43.8,"d":30.2,"e":70.5},{"n":211,"c":44,"d":30.5,"e":68},{"n":213,"c":44.2,"d":31,"e":71},{"n":215,"c":44.8,"d":31.7,"e":67.5},{"n":217,"c":47,"d":32.5,"e":75},{"n":219,"c":48.5,"d":32,"e":69},
  {"n":221,"c":48,"d":31.8,"e":67},{"n":223,"c":47.5,"d":31.7,"e":70},{"n":225,"c":47,"d":31.5,"e":67.5},{"n":227,"c":46.6,"d":31.2,"e":70.5},{"n":229,"c":46.2,"d":31,"e":67},{"n":231,"c":45.8,"d":30.8,"e":70},{"n":233,"c":45.5,"d":30.5,"e":66.5},{"n":235,"c":45.2,"d":30.8,"e":69.5},{"n":237,"c":45,"d":31.2,"e":67},{"n":239,"c":44.8,"d":31.5,"e":74.5},
  {"n":241,"c":45,"d":31.8,"e":69},{"n":243,"c":45.2,"d":32,"e":71.5},{"n":245,"c":45.5,"d":32.3,"e":68.5},{"n":247,"c":45.5,"d":32.5,"e":71},{"n":249,"c":45.7,"d":32.6,"e":69.5},
  {"n":2,"c":104,"d":74.8,"e":71},{"n":4,"c":99,"d":76.2,"e":77},{"n":6,"c":96.5,"d":77.2,"e":78.5},{"n":8,"c":97.5,"d":77.8,"e":76},{"n":10,"c":100.5,"d":78.2,"e":75.5},{"n":12,"c":101.5,"d":78.8,"e":77.2},{"n":14,"c":100.8,"d":79.2,"e":77.5},{"n":16,"c":100.2,"d":79.8,"e":78},{"n":18,"c":99.8,"d":80.2,"e":78.8},{"n":20,"c":99.2,"d":80.8,"e":79.2},
  {"n":22,"c":98.8,"d":81.1,"e":79.8},{"n":24,"c":98.5,"d":81.1,"e":80},{"n":26,"c":98.8,"d":80.9,"e":80.2},{"n":28,"c":99.2,"d":80.6,"e":80.2},{"n":30,"c":99.8,"d":80.3,"e":79.8},{"n":32,"c":100.5,"d":80.1,"e":78.5},{"n":34,"c":101.2,"d":80,"e":78.2},{"n":36,"c":101.5,"d":79.9,"e":78},{"n":38,"c":101.2,"d":79.6,"e":77.8},{"n":40,"c":101.2,"d":79.4,"e":77.5},
  {"n":42,"c":101.5,"d":79.1,"e":77.2},{"n":44,"c":101.5,"d":78.9,"e":77},{"n":46,"c":101.2,"d":78.6,"e":76.8},{"n":48,"c":101.2,"d":78.4,"e":76.4},{"n":50,"c":101.5,"d":78.1,"e":76},{"n":52,"c":101.5,"d":77.9,"e":75.6},{"n":54,"c":101.8,"d":77.6,"e":75.2},{"n":56,"c":101.5,"d":77.4,"e":75},{"n":58,"c":100.8,"d":77.3,"e":74.8},{"n":60,"c":101,"d":77.1,"e":74.4},
  {"n":62,"c":104,"d":76.9,"e":73.6},{"n":64,"c":107,"d":76.6,"e":72.8},{"n":66,"c":108.5,"d":76.2,"e":70.8},{"n":68,"c":109,"d":75.5,"e":69.8},{"n":70,"c":108.3,"d":74.5,"e":69.5},{"n":72,"c":106.8,"d":73.4,"e":69.2},{"n":74,"c":105,"d":72.2,"e":69.2},{"n":76,"c":103,"d":70.8,"e":69.2},{"n":78,"c":103,"d":69,"e":69},{"n":80,"c":102,"d":66.5,"e":69},
  {"n":82,"c":97.5,"d":63,"e":69.8},{"n":84,"c":92.5,"d":58.5,"e":69.5},{"n":86,"c":87,"d":55,"e":70},{"n":88,"c":80.5,"d":53,"e":71.8},{"n":90,"c":74.5,"d":51.8,"e":72.2},{"n":92,"c":71,"d":51.2,"e":72.8},{"n":94,"c":70.2,"d":50.8,"e":73.2},{"n":96,"c":69.8,"d":50.2,"e":73.5},{"n":98,"c":69.2,"d":50,"e":73.8},{"n":100,"c":69,"d":49.9,"e":74},
  {"n":102,"c":68.8,"d":49.6,"e":74},{"n":104,"c":68.5,"d":49.5,"e":74},{"n":106,"c":68.2,"d":49.5,"e":74.2},{"n":108,"c":68,"d":49.5,"e":74.5},{"n":110,"c":68.2,"d":49.4,"e":74.2},{"n":112,"c":68.8,"d":49.4,"e":73.8},{"n":114,"c":69.2,"d":49.5,"e":73.2},{"n":116,"c":69.8,"d":49.5,"e":72.8},{"n":118,"c":70.2,"d":49.5,"e":72.2},{"n":120,"c":70.5,"d":49.5,"e":71.8},
  {"n":122,"c":70.8,"d":49.4,"e":71.2},{"n":124,"c":70.8,"d":49.4,"e":71},{"n":126,"c":70.5,"d":49.4,"e":71},{"n":128,"c":70.2,"d":49.2,"e":71.2},{"n":130,"c":70,"d":48.8,"e":71.2},{"n":132,"c":69.8,"d":48.2,"e":71.2},{"n":134,"c":69.2,"d":47.8,"e":71.5},{"n":136,"c":68.8,"d":47.3,"e":71.8},{"n":138,"c":68,"d":46.5,"e":71.5},{"n":140,"c":67,"d":45.5,"e":71.2},
  {"n":142,"c":66,"d":44.6,"e":71.5},{"n":144,"c":64.5,"d":44,"e":71.8},{"n":146,"c":62.5,"d":43.4,"e":72},{"n":148,"c":60.8,"d":42.6,"e":72.2},{"n":150,"c":59.2,"d":41.8,"e":72.2},{"n":152,"c":58.2,"d":41.2,"e":72},{"n":154,"c":57.6,"d":41,"e":71.8},{"n":156,"c":57.6,"d":41.1,"e":71.5},{"n":158,"c":57.9,"d":41.1,"e":71.2},{"n":160,"c":57.9,"d":41,"e":71.2},
  {"n":162,"c":57.6,"d":40.9,"e":71.2},{"n":164,"c":57.2,"d":40.6,"e":71},{"n":166,"c":57.2,"d":40.5,"e":70.8},{"n":168,"c":57,"d":40.3,"e":70.8},{"n":170,"c":56.2,"d":40.1,"e":70.8},{"n":172,"c":55.8,"d":39.9,"e":70.5},{"n":174,"c":55.2,"d":39.6,"e":70.2},{"n":176,"c":54.8,"d":39.5,"e":70},{"n":178,"c":54.2,"d":39.3,"e":69.8},{"n":180,"c":54.2,"d":39.1,"e":69.8},
  {"n":182,"c":54.5,"d":38.8,"e":69.5},{"n":184,"c":54.8,"d":38.2,"e":69.2},{"n":186,"c":55.2,"d":37.9,"e":69},{"n":188,"c":55.2,"d":37.5,"e":68.8},{"n":190,"c":53.5,"d":36,"e":67.5},{"n":192,"c":50.5,"d":34.5,"e":66.5},{"n":194,"c":48.8,"d":33.2,"e":67.2},{"n":196,"c":47.2,"d":32.1,"e":68.2},{"n":198,"c":46,"d":31.4,"e":68.8},{"n":200,"c":45.2,"d":30.8,"e":69},
  {"n":202,"c":44.5,"d":30.3,"e":69.2},{"n":204,"c":44,"d":30.1,"e":69.5},{"n":206,"c":43.6,"d":29.9,"e":69.8},{"n":208,"c":43.6,"d":30,"e":69.5},{"n":210,"c":43.9,"d":30.3,"e":69.2},{"n":212,"c":44.1,"d":30.8,"e":69.5},{"n":214,"c":44.5,"d":31.3,"e":69.2},{"n":216,"c":46,"d":32.2,"e":70},{"n":218,"c":48,"d":32.3,"e":72},{"n":220,"c":48.2,"d":31.9,"e":68},
  {"n":222,"c":47.8,"d":31.8,"e":68.5},{"n":224,"c":47.2,"d":31.6,"e":68.8},{"n":226,"c":46.8,"d":31.4,"e":69},{"n":228,"c":46.4,"d":31.1,"e":68.8},{"n":230,"c":46,"d":30.9,"e":68.5},{"n":232,"c":45.6,"d":30.6,"e":68.2},{"n":234,"c":45.3,"d":30.6,"e":68},{"n":236,"c":45.1,"d":31,"e":68.2},{"n":238,"c":44.9,"d":31.4,"e":69},{"n":240,"c":44.9,"d":31.6,"e":71},
  {"n":242,"c":45.1,"d":31.9,"e":70.2},{"n":244,"c":45.3,"d":32.2,"e":70},{"n":246,"c":45.5,"d":32.4,"e":69.8},{"n":248,"c":45.6,"d":32.6,"e":70.2},{"n":250,"c":45.8,"d":32.6,"e":70}
 ]
},
"columns": 2,
"spacing": {"row": 80, "column": 13},
"bounds": "flush",
"resolve": {"scale": {"color": "independent", "shape": "independent"}, "legend": {"color": "independent", "shape": "independent"}},
"concat": [
   {
    "width": 493, "height": 401,
    "layer": [
     {
      "data": {"name": "a"},
      "mark": {"type": "line", "strokeWidth": 1.6},
      "encoding": {
       "x": {"field": "x", "type": "quantitative", "scale": {"domain": [-5, 75], "nice": false, "zero": false},
             "axis": {"values": [0,10,20,30,40,50,60,70], "labelExpr": "datum.value % 20 === 0 ? datum.label : ''", "tickSize": 6, "labelPadding": 5, "title": "Capacity (mAh g\u207b\u00b9)", "titleX": 510, "titleY": 57, "titleBaseline": "middle", "titleAlign": "center"}},
       "y": {"field": "v", "type": "quantitative", "scale": {"domain": [0.45, 2.5], "nice": false, "zero": false},
             "axis": {"values": [0.5,0.75,1,1.25,1.5,1.75,2,2.25,2.5], "format": ".1f", "labelExpr": "(datum.value * 4) % 2 === 0 ? datum.label : ''", "tickSize": 6, "labelPadding": 13, "title": "Voltage (V)", "titleX": -84, "titleY": 223, "titleBaseline": "middle", "titleAlign": "center", "titleAngle": 270}},
       "color": {"field": "c", "type": "nominal", "scale": {"domain": ["80","100","200","300"], "range": ["#000000","#1515d0","#178a17","#e01b1b"]},
                 "legend": {"orient": "none", "legendX": 298, "legendY": 66, "title": null, "symbolType": "stroke", "symbolSize": 2304, "symbolStrokeWidth": 2, "labelFontSize": 19, "clipHeight": 25.6, "rowPadding": 0, "labelOffset": 6, "padding": 0, "labelExpr": "'Cycle' + (datum.label == '80' ? '\u00a0\u00a0\u00a0' : '\u00a0') + datum.label"}},
       "detail": {"field": "b"}
      }
     },
     {
      "data": {"values": [{"t": "(a)"}]},
      "mark": {"type": "text", "fontSize": 32, "fontWeight": "bold", "align": "center", "baseline": "middle", "color": "#000000"},
      "encoding": {"x": {"datum": 69, "type": "quantitative"}, "y": {"datum": 0.6, "type": "quantitative"}, "text": {"field": "t"}}
     }
    ]
   },
   {
    "width": 493, "height": 401,
    "layer": [
     {
      "data": {"name": "b"},
      "mark": {"type": "line", "strokeWidth": 1.6},
      "encoding": {
       "x": {"field": "x", "type": "quantitative", "scale": {"domain": [-5, 100], "nice": false, "zero": false},
             "axis": {"values": [0,10,20,30,40,50,60,70,80,90,100], "labelExpr": "datum.value % 20 === 0 ? datum.label : ''", "tickSize": 6, "labelPadding": 5, "title": null}},
       "y": {"field": "v", "type": "quantitative", "scale": {"domain": [0.45, 2.5], "nice": false, "zero": false},
             "axis": {"values": [0.5,0.75,1,1.25,1.5,1.75,2,2.25,2.5], "labels": false, "tickSize": -6, "title": null}},
       "color": {"field": "c", "type": "nominal", "scale": {"domain": ["80","100","200","300"], "range": ["#000000","#1515d0","#178a17","#e01b1b"]},
                 "legend": {"orient": "none", "legendX": 334, "legendY": 66, "title": null, "symbolType": "stroke", "symbolSize": 2209, "symbolStrokeWidth": 2, "labelFontSize": 19, "clipHeight": 25.6, "rowPadding": 0, "labelOffset": 6, "padding": 0, "labelExpr": "'Cycle' + (datum.label == '80' ? '\u00a0\u00a0\u00a0' : '\u00a0') + datum.label"}},
       "detail": {"field": "b"}
      }
     },
     {
      "data": {"values": [{"t": "(b)"}]},
      "mark": {"type": "text", "fontSize": 32, "fontWeight": "bold", "align": "center", "baseline": "middle", "color": "#000000"},
      "encoding": {"x": {"datum": 91.7, "type": "quantitative"}, "y": {"datum": 0.6, "type": "quantitative"}, "text": {"field": "t"}}
     }
    ]
   },
   {
    "width": 493, "height": 403,
    "data": {"name": "cc"},
    "layer": [
     {
      "layer": [
       {
        "transform": [{"fold": ["c", "d"], "as": ["s", "v"]}],
        "mark": {"type": "point", "filled": false, "size": 200, "strokeWidth": 1.1, "opacity": 1},
        "encoding": {
         "x": {"field": "n", "type": "quantitative", "scale": {"domain": [-10, 250], "nice": false, "zero": false},
               "axis": {"values": [0,25,50,75,100,125,150,175,200,225,250], "labelExpr": "datum.value % 50 === 0 ? datum.label : ''", "tickSize": 6, "labelPadding": 5, "title": "Cycle number", "titleX": 502, "titleY": 52, "titleBaseline": "middle", "titleAlign": "center"}},
         "y": {"field": "v", "type": "quantitative", "scale": {"domain": [-25, 200], "nice": false, "zero": false},
               "axis": {"values": [-25,0,25,50,75,100,125,150,175,200], "labelExpr": "datum.value % 50 === 0 ? datum.label : ''", "tickSize": 6, "labelPadding": 4, "title": "Capacity (mAh g\u207b\u00b9)", "titleX": -82, "titleY": 227, "titleBaseline": "middle", "titleAlign": "center", "titleAngle": 270}},
         "color": {"field": "s", "type": "nominal", "scale": {"domain": ["c","d"], "range": ["#000000","#ee1c1c"]},
                   "legend": {"orient": "none", "legendX": 110, "legendY": 313, "title": null, "symbolSize": 640, "symbolStrokeWidth": 1.5, "labelFontSize": 22, "clipHeight": 31, "rowPadding": 0, "labelOffset": 21, "padding": 0, "labelExpr": "datum.label == 'c' ? 'Charge capacity' : 'Discharge capacity'"}},
         "shape": {"field": "s", "type": "nominal", "scale": {"domain": ["c","d"], "range": ["circle", "M-1.2,0L0,-1.25L1.2,0L0,1.25Z"]},
                   "legend": {"orient": "none", "legendX": 110, "legendY": 313, "title": null, "symbolSize": 640, "symbolStrokeWidth": 1.5, "labelFontSize": 22, "clipHeight": 31, "rowPadding": 0, "labelOffset": 21, "padding": 0, "labelExpr": "datum.label == 'c' ? 'Charge capacity' : 'Discharge capacity'"}}
        }
       },
       {
        "data": {"values": [{"t": "(c)"}]},
        "mark": {"type": "text", "fontSize": 32, "fontWeight": "bold", "align": "center", "baseline": "middle", "color": "#000000"},
        "encoding": {"x": {"datum": 230.3, "type": "quantitative"}, "y": {"datum": -7, "type": "quantitative"}, "text": {"field": "t"}}
       },
       {
        "data": {"values": [{"t": "Coulombic efficiency"}]},
        "mark": {"type": "text", "fontSize": 19.5, "fontWeight": "bold", "align": "center", "baseline": "middle", "color": "#228b8b"},
        "encoding": {"x": {"datum": 126, "type": "quantitative"}, "y": {"datum": 155.5, "type": "quantitative"}, "text": {"field": "t"}}
       }
      ]
     },
     {
      "mark": {"type": "point", "filled": false, "size": 225, "strokeWidth": 1, "opacity": 1, "shape": "M-1,-0.85L1,0L-1,0.85Z", "color": "#2b8c8c"},
      "encoding": {
       "x": {"field": "n", "type": "quantitative", "scale": {"domain": [-10, 250], "nice": false, "zero": false},
             "axis": {"orient": "top", "values": [0,25,50,75,100,125,150,175,200,225,250], "labels": false, "tickSize": -7, "title": null}},
       "y": {"field": "e", "type": "quantitative", "scale": {"domain": [0, 93], "nice": false, "zero": false},
             "axis": {"orient": "right", "values": [0,10,20,30,40,50,60,70,80,90], "labels": false, "tickSize": -6, "tickColor": "#2b8c8c", "domainColor": "#2b8c8c", "title": null}}
      }
     }
    ],
    "resolve": {"scale": {"y": "independent"}, "axis": {"x": "independent", "y": "independent"}}
   },
   {
    "width": 493, "height": 403,
    "data": {"name": "dd"},
    "layer": [
     {
      "layer": [
       {
        "transform": [{"fold": ["c", "d"], "as": ["s", "v"]}],
        "mark": {"type": "point", "filled": false, "size": 200, "strokeWidth": 1.1, "opacity": 1},
        "encoding": {
         "x": {"field": "n", "type": "quantitative", "scale": {"domain": [-10, 250], "nice": false, "zero": false},
               "axis": {"values": [0,25,50,75,100,125,150,175,200,225,250], "labelExpr": "datum.value % 50 === 0 ? datum.label : ''", "tickSize": 6, "labelPadding": 5, "title": null}},
         "y": {"field": "v", "type": "quantitative", "scale": {"domain": [-25, 200], "nice": false, "zero": false},
               "axis": {"values": [-25,0,25,50,75,100,125,150,175,200], "labels": false, "tickSize": -6, "title": null}},
         "color": {"field": "s", "type": "nominal", "scale": {"domain": ["c","d"], "range": ["#000000","#ee1c1c"]},
                   "legend": {"orient": "none", "legendX": 121, "legendY": 316, "title": null, "symbolSize": 640, "symbolStrokeWidth": 1.5, "labelFontSize": 22, "clipHeight": 31, "rowPadding": 0, "labelOffset": 21, "padding": 0, "labelExpr": "datum.label == 'c' ? 'Charge capacity' : 'Discharge capacity'"}},
         "shape": {"field": "s", "type": "nominal", "scale": {"domain": ["c","d"], "range": ["circle", "M-1.2,0L0,-1.25L1.2,0L0,1.25Z"]},
                   "legend": {"orient": "none", "legendX": 121, "legendY": 316, "title": null, "symbolSize": 640, "symbolStrokeWidth": 1.5, "labelFontSize": 22, "clipHeight": 31, "rowPadding": 0, "labelOffset": 21, "padding": 0, "labelExpr": "datum.label == 'c' ? 'Charge capacity' : 'Discharge capacity'"}}
        }
       },
       {
        "data": {"values": [{"t": "(d)"}]},
        "mark": {"type": "text", "fontSize": 32, "fontWeight": "bold", "align": "center", "baseline": "middle", "color": "#000000"},
        "encoding": {"x": {"datum": 229.4, "type": "quantitative"}, "y": {"datum": -6, "type": "quantitative"}, "text": {"field": "t"}}
       },
       {
        "data": {"values": [{"t": "Coulombic efficiency"}]},
        "mark": {"type": "text", "fontSize": 19.5, "fontWeight": "bold", "align": "center", "baseline": "middle", "color": "#228b8b"},
        "encoding": {"x": {"datum": 124.2, "type": "quantitative"}, "y": {"datum": 170.8, "type": "quantitative"}, "text": {"field": "t"}}
       }
      ]
     },
     {
      "mark": {"type": "point", "filled": false, "size": 225, "strokeWidth": 1, "opacity": 1, "shape": "M-1,-0.85L1,0L-1,0.85Z", "color": "#2b8c8c"},
      "encoding": {
       "x": {"field": "n", "type": "quantitative", "scale": {"domain": [-10, 250], "nice": false, "zero": false},
             "axis": {"orient": "top", "values": [0,25,50,75,100,125,150,175,200,225,250], "labels": false, "tickSize": -7, "title": null}},
       "y": {"field": "e", "type": "quantitative", "scale": {"domain": [0, 93], "nice": false, "zero": false},
             "axis": {"orient": "right", "values": [0,10,20,30,40,50,60,70,80,90], "labelExpr": "datum.value % 20 === 0 ? datum.label : ''", "labelColor": "#2b8c8c", "tickSize": 6, "labelPadding": 5, "tickColor": "#2b8c8c", "domainColor": "#2b8c8c", "title": "Efficiency (%)", "titleX": 63, "titleY": 222, "titleBaseline": "middle", "titleAlign": "center", "titleAngle": 270}}
      }
     }
    ],
    "resolve": {"scale": {"y": "independent"}, "axis": {"x": "independent", "y": "independent"}}
   }
]
}
